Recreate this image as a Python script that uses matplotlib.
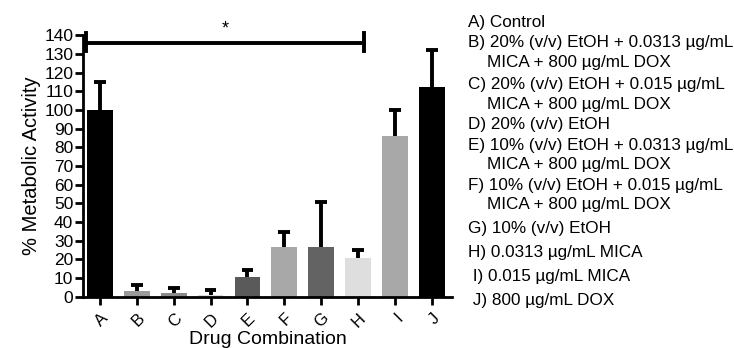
import matplotlib
matplotlib.use('Agg')
import matplotlib.pyplot as plt

plt.rcParams['font.family'] = ['Liberation Sans', 'DejaVu Sans']

# Bar data
groups = ['A', 'B', 'C', 'D', 'E', 'F', 'G', 'H', 'I', 'J']
activity = [100, 3, 2, 1, 10.5, 26.5, 26.5, 21, 86, 112]
error = [15, 3.5, 2.5, 2.5, 4, 8, 24.5, 4, 14, 20]
bar_colors = ['#000000', '#9a9a9a', '#8a8a8a', '#dcdcdc', '#5a5a5a',
              '#a8a8a8', '#636363', '#dedede', '#a8a8a8', '#000000']

legend_lines = [
    ('A) Control', 22),
    ('B) 20% (v/v) EtOH + 0.0313 µg/mL', 42),
    ('    MICA + 800 µg/mL DOX', 63),
    ('C) 20% (v/v) EtOH + 0.015 µg/mL', 84),
    ('    MICA + 800 µg/mL DOX', 104),
    ('D) 20% (v/v) EtOH', 125),
    ('E) 10% (v/v) EtOH + 0.0313 µg/mL', 145),
    ('    MICA + 800 µg/mL DOX', 165),
    ('F) 10% (v/v) EtOH + 0.015 µg/mL', 185),
    ('    MICA + 800 µg/mL DOX', 205),
    ('G) 10% (v/v) EtOH', 228),
    ('H) 0.0313 µg/mL MICA', 253),
    (' I) 0.015 µg/mL MICA', 277),
    (' J) 800 µg/mL DOX', 300),
]

fig = plt.figure(figsize=(7.34, 3.48), dpi=100)
ax = fig.add_axes([0.113, 0.147, 0.503, 0.752])

x = list(range(len(groups)))
ax.bar(x, activity, width=0.7, color=bar_colors, edgecolor='none', zorder=2)

# upper-only error bars
tops = [a + e for a, e in zip(activity, error)]
ax.vlines(x, activity, tops, color='black', lw=2.8, zorder=3)
ax.hlines(tops, [i - 0.16 for i in x], [i + 0.16 for i in x],
          color='black', lw=2.8, zorder=3)

# significance bracket
ax.plot([-0.38, 7.17], [136, 136], color='black', lw=2.8, clip_on=False)
ax.plot([-0.38, -0.38], [131.5, 141], color='black', lw=2.8, clip_on=False)
ax.plot([7.17, 7.17], [131.5, 141], color='black', lw=2.8, clip_on=False)
ax.text(3.4, 139, '*', ha='center', va='bottom', fontsize=13)

ax.set_xlim(-0.46, 9.55)
ax.set_ylim(0, 140)
ax.set_yticks(range(0, 141, 10))
ax.set_xticks(x)
ax.set_xticklabels(groups, rotation=45, ha='right', rotation_mode='anchor')
ax.tick_params(axis='both', labelsize=12.5, width=2, length=6, direction='out')
ax.tick_params(axis='y', pad=1)
ax.tick_params(axis='x', pad=4, labelsize=12)
for side in ['top', 'right']:
    ax.spines[side].set_visible(False)
for side in ['left', 'bottom']:
    ax.spines[side].set_linewidth(2)

ax.set_ylabel('% Metabolic Activity', fontsize=14.5, labelpad=2)
ax.set_xlabel('Drug Combination', fontsize=14, labelpad=0.5)

for txt, ypix in legend_lines:
    fig.text(468 / 734, 1 - ypix / 348, txt, fontsize=12.3, va='center', ha='left')

fig.savefig('out.png', dpi=100)
